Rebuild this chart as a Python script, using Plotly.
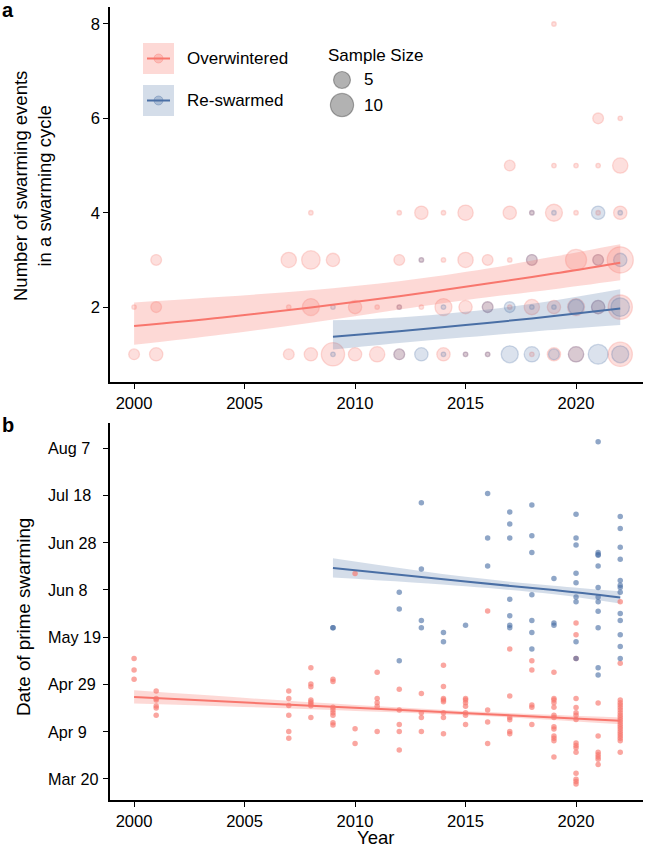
import math
import plotly.graph_objects as go

W, H = 646, 847
FONT = "Liberation Sans, Arial, sans-serif"
PINK = "248,118,109"
BLUE = "74,111,165"

# ---------------- Panel a data: (year, swarming events, sample size) ----------------
ow_year  = [2000, 2000, 2001, 2001, 2001, 2007, 2007, 2007, 2008, 2008, 2008, 2008,
            2009, 2009, 2010, 2010, 2011, 2011, 2012, 2012, 2012, 2012, 2013, 2013, 2013,
            2014, 2014, 2014, 2014, 2015, 2015, 2015, 2015, 2016, 2016, 2016,
            2017, 2017, 2017, 2017, 2018, 2018, 2018, 2018, 2019, 2019, 2019, 2019, 2019,
            2020, 2020, 2020, 2020, 2020, 2021, 2021, 2021, 2021, 2021,
            2022, 2022, 2022, 2022, 2022, 2022]
ow_count = [2, 1, 3, 2, 1, 3, 2, 1, 4, 3, 2, 1,
            3, 1, 2, 1, 2, 1, 4, 3, 2, 1, 4, 3, 2,
            4, 3, 2, 1, 4, 3, 2, 1, 3, 2, 1,
            5, 4, 3, 2, 4, 3, 2, 1, 8, 5, 4, 2, 1,
            5, 4, 3, 2, 1, 6, 5, 4, 3, 2,
            6, 5, 4, 3, 2, 1]
ow_n     = [1, 2, 2, 2, 3, 4, 1, 2, 1, 6, 5, 3,
            3, 10, 3, 3, 1, 4, 1, 2, 1, 2, 3, 1, 1,
            1, 1, 5, 3, 4, 4, 3, 1, 2, 2, 1,
            2, 3, 1, 1, 1, 2, 4, 1, 1, 1, 5, 3, 3,
            1, 1, 8, 5, 4, 2, 1, 1, 2, 3,
            1, 4, 3, 13, 11, 11]

rs_year  = [2009, 2009, 2012, 2012, 2013, 2013, 2014, 2014, 2015, 2016, 2016, 2017, 2017,
            2018, 2018, 2018, 2018, 2019, 2019, 2019, 2020, 2020,
            2021, 2021, 2021, 2021, 2022, 2022, 2022, 2022]
rs_count = [2, 1, 2, 1, 3, 1, 2, 1, 1, 2, 1, 2, 1,
            4, 3, 2, 1, 4, 2, 1, 2, 1,
            4, 3, 2, 1, 4, 3, 2, 1]
rs_n     = [1, 1, 1, 2, 1, 3, 1, 1, 1, 2, 1, 2, 5,
            1, 2, 1, 4, 1, 1, 2, 4, 4,
            3, 2, 3, 7, 1, 3, 6, 5]

# fitted trends (panel a)
ow_fit_year = [2000, 2004, 2008, 2012, 2016, 2019, 2022]
ow_fit      = [1.60, 1.78, 1.99, 2.23, 2.50, 2.71, 2.94]
ow_lo       = [1.20, 1.42, 1.67, 1.95, 2.21, 2.38, 2.57]
ow_hi       = [2.10, 2.22, 2.36, 2.55, 2.82, 3.07, 3.33]
rs_fit_year = [2009, 2012, 2015, 2018, 2022]
rs_fit      = [1.37, 1.49, 1.62, 1.76, 1.97]
rs_lo       = [1.10, 1.24, 1.36, 1.48, 1.62]
rs_hi       = [1.72, 1.78, 1.90, 2.07, 2.38]

# ---------------- Panel b data: prime swarming day-of-year ----------------
ow_b = {
    2000: [130, 125.1, 121.2],
    2001: [116.2, 113, 112.4, 109.9, 109, 106],
    2007: [116.2, 113, 110.1, 106, 99.1, 96.2],
    2008: [126.1, 119.2, 118, 112.4, 111.6, 110.8, 110, 105],
    2009: [121.2, 120.2, 109.3, 108.2, 107, 106, 102.8, 101.8],
    2010: [165.9, 100.2, 94],
    2011: [124.1, 113, 111.2, 109.8, 99.1],
    2012: [117, 108.2, 102, 99.1, 91.3],
    2013: [115.2, 107, 105, 99.1],
    2014: [127.1, 118.1, 113, 112.4, 111.7, 107, 105, 98.1],
    2015: [113, 112.4, 111.2, 109.8, 107, 106, 102],
    2016: [150.1, 108.2, 103.1, 94],
    2017: [134, 114.1, 105, 104, 99.1, 98.1],
    2018: [129, 125.1, 110.3, 109.3, 102],
    2019: [124.1, 113, 112.4, 111.2, 109.3, 106, 105, 101.1, 100.1, 97.2, 96.2, 95.2, 88.3],
    2020: [145, 140, 130, 113, 109.2, 107, 106, 104.2, 94.2, 93.2, 92.2, 90.3, 81.4, 78.9, 77.9, 76.9],
    2021: [111.1, 97.2, 90.3, 89.2, 88.3, 87.3, 85.1],
    2022: [154, 128, 112.4, 111.2, 110.3, 109.2, 108.2, 107, 106, 105, 104, 103.1, 102,
           101.1, 100.1, 99.1, 98.1, 97.2, 96.2, 95.2, 90.3],
}
rs_b = {
    2009: [143, 143],
    2012: [158, 150.9, 129],
    2013: [195.9, 167.8, 146, 143],
    2014: [141, 137],
    2015: [144],
    2016: [199.8, 180.9, 169.1],
    2017: [191.9, 186.9, 180.9, 155, 148, 144, 143],
    2018: [194.9, 181.9, 174.8, 156.9, 146, 141, 134],
    2019: [163.8, 145, 144],
    2020: [191, 180.9, 178, 166, 162, 156, 154, 137, 130],
    2021: [221.7, 174.8, 174, 173.7, 169.1, 160, 156, 154, 150, 143, 126, 123],
    2022: [190, 185, 177, 172, 163, 161, 160, 158, 149, 146, 140, 135, 130],
}
ow_b_fit_year = [2000, 2008, 2016, 2022]
ow_b_fit      = [113.7, 110.0, 106.4, 103.6]
ow_b_lo       = [110.9, 108.5, 105.5, 102.2]
ow_b_hi       = [116.5, 111.5, 107.3, 105.0]
rs_b_fit_year = [2009, 2015, 2019, 2022]
rs_b_fit      = [168.3, 162.5, 158.9, 155.8]
rs_b_lo       = [164.2, 160.5, 157.1, 153.2]
rs_b_hi       = [172.4, 164.5, 160.7, 158.4]

date_ticks  = [79, 99, 119, 139, 159, 179, 199, 219]
date_labels = ["Mar 20", "Apr 9", "Apr 29", "May 19", "Jun 8", "Jun 28", "Jul 18", "Aug 7"]
year_ticks  = [2000, 2005, 2010, 2015, 2020]
count_ticks = [2, 4, 6, 8]
legend_sizes = [5, 10]

TICK_SIZE = 16.6
DATE_SIZE = 16.2


def size_px(n):
    # ggplot-like area scale: sample sizes 1..14 mapped to point sizes 1..6
    return 4.5 * (1 + 5 * math.sqrt((n - 1) / 13))


def px(x):
    return x / W


def py(y):
    return 1 - y / H


fig = go.Figure()


def ribbon(xs, lo, hi, color, alpha, xa, ya):
    fig.add_trace(go.Scatter(x=xs, y=lo, mode="lines", line=dict(width=0, shape="spline"),
                             hoverinfo="skip", showlegend=False, xaxis=xa, yaxis=ya))
    fig.add_trace(go.Scatter(x=xs, y=hi, mode="lines", fill="tonexty",
                             fillcolor=f"rgba({color},{alpha})", line=dict(width=0, shape="spline"),
                             hoverinfo="skip", showlegend=False, xaxis=xa, yaxis=ya))


def trend(xs, ys, color, xa, ya):
    fig.add_trace(go.Scatter(x=xs, y=ys, mode="lines", line=dict(color=f"rgb({color})", width=2, shape="spline"),
                             showlegend=False, xaxis=xa, yaxis=ya))


# Panel a
fig.add_trace(go.Scatter(x=ow_year, y=ow_count, mode="markers",
                         marker=dict(size=[size_px(n) for n in ow_n], color=f"rgba({PINK},0.33)",
                                     line=dict(color=f"rgba({PINK},0.38)", width=1.3)),
                         showlegend=False, xaxis="x", yaxis="y"))
fig.add_trace(go.Scatter(x=rs_year, y=rs_count, mode="markers",
                         marker=dict(size=[size_px(n) for n in rs_n], color=f"rgba({BLUE},0.28)",
                                     line=dict(color=f"rgba({BLUE},0.38)", width=1.3)),
                         showlegend=False, xaxis="x", yaxis="y"))
ribbon(ow_fit_year, ow_lo, ow_hi, PINK, 0.28, "x", "y")
ribbon(rs_fit_year, rs_lo, rs_hi, BLUE, 0.24, "x", "y")
trend(ow_fit_year, ow_fit, PINK, "x", "y")
trend(rs_fit_year, rs_fit, BLUE, "x", "y")

# Panel b
ribbon(ow_b_fit_year, ow_b_lo, ow_b_hi, PINK, 0.28, "x2", "y2")
ribbon(rs_b_fit_year, rs_b_lo, rs_b_hi, BLUE, 0.24, "x2", "y2")
for data, col, a in [(ow_b, PINK, 0.65), (rs_b, BLUE, 0.62)]:
    xs, ys = [], []
    for yr, vals in data.items():
        xs += [yr] * len(vals)
        ys += vals
    fig.add_trace(go.Scatter(x=xs, y=ys, mode="markers",
                             marker=dict(size=5.5, color=f"rgba({col},{a})", line=dict(width=0)),
                             showlegend=False, xaxis="x2", yaxis="y2"))
trend(ow_b_fit_year, ow_b_fit, PINK, "x2", "y2")
trend(rs_b_fit_year, rs_b_fit, BLUE, "x2", "y2")

axis_common = dict(showline=True, linecolor="black", linewidth=1.6, ticks="outside", ticklen=5,
                   tickwidth=1.4, tickcolor="black", showgrid=False, zeroline=False,
                   tickfont=dict(family=FONT, size=TICK_SIZE, color="black"), automargin=False)

x_range = [1998.91, 2023.03]
fig.update_layout(
    width=W, height=H, margin=dict(l=0, r=0, t=0, b=0),
    paper_bgcolor="white", plot_bgcolor="white", showlegend=False,
    xaxis=dict(domain=[px(110), px(643)], range=x_range, tickvals=year_ticks, anchor="y", **axis_common),
    yaxis=dict(domain=[py(382), py(7)], range=[0.413, 8.36], tickvals=count_ticks, anchor="x", **axis_common),
    xaxis2=dict(domain=[px(110), px(643)], range=x_range, tickvals=year_ticks, anchor="y2", **axis_common),
    yaxis2=dict(domain=[py(800), py(423)], range=[70.1, 229.6], tickvals=date_ticks,
                ticktext=[""] * len(date_ticks), anchor="x2", **axis_common),
)

ann = []


def note(text, x, y, size, xanchor="left", yanchor="middle", **kw):
    d = dict(text=text, xref="paper", yref="paper", x=px(x), y=py(y), xanchor=xanchor, yanchor=yanchor,
             showarrow=False, font=dict(family=FONT, size=size, color="black"))
    d.update(kw)
    ann.append(d)


# panel letters
note("<b>a</b>", 0, 10, 20)
note("<b>b</b>", 0, 425, 20)
# axis titles
note("Number of swarming events<br>in a swarming cycle", 33, 186, 18.5, xanchor="center", textangle=-90)
note("Date of prime swarming", 23, 617, 18.8, xanchor="center", textangle=-90)
note("Year", 376, 837.5, 18.5, xanchor="center", borderpad=0)
# left-aligned date tick labels (positioned by the y2 axis scale)
for v, lab in zip(date_ticks, date_labels):
    ann.append(dict(text=lab, xref="paper", yref="y2", x=px(46), y=v, xanchor="left", yanchor="middle",
                    showarrow=False, font=dict(family=FONT, size=DATE_SIZE, color="black")))

# legend (group)
shapes = []
for label, col, alpha, cy in [("Overwintered", PINK, 0.28, 58.5), ("Re-swarmed", BLUE, 0.24, 100.5)]:
    shapes.append(dict(type="rect", xref="paper", yref="paper", x0=px(143), x1=px(174), y0=py(cy + 15.5),
                       y1=py(cy - 15.5), fillcolor=f"rgba({col},{alpha})", line=dict(width=0), layer="above"))
    shapes.append(dict(type="circle", xref="paper", yref="paper", x0=px(158.5 - 4.5), x1=px(158.5 + 4.5),
                       y0=py(cy + 4.5), y1=py(cy - 4.5), fillcolor=f"rgba({col},0.3)",
                       line=dict(color=f"rgba({col},0.35)", width=1), layer="above"))
    shapes.append(dict(type="line", xref="paper", yref="paper", x0=px(147), x1=px(170), y0=py(cy), y1=py(cy),
                       line=dict(color=f"rgb({col})", width=2), layer="above"))
    note(label, 185, cy, 17)

# legend (sample size)
note("Sample Size", 326, 55, 17)
for n, cy in zip(legend_sizes, [80, 105]):
    r = size_px(n) / 2
    shapes.append(dict(type="circle", xref="paper", yref="paper", x0=px(342 - r), x1=px(342 + r),
                       y0=py(cy + r), y1=py(cy - r), fillcolor="rgba(0,0,0,0.3)",
                       line=dict(color="rgba(0,0,0,0.3)", width=1.2), layer="above"))
    note(str(n), 362, cy, 17)

fig.update_layout(annotations=ann, shapes=shapes)
fig.write_html("out.html")
